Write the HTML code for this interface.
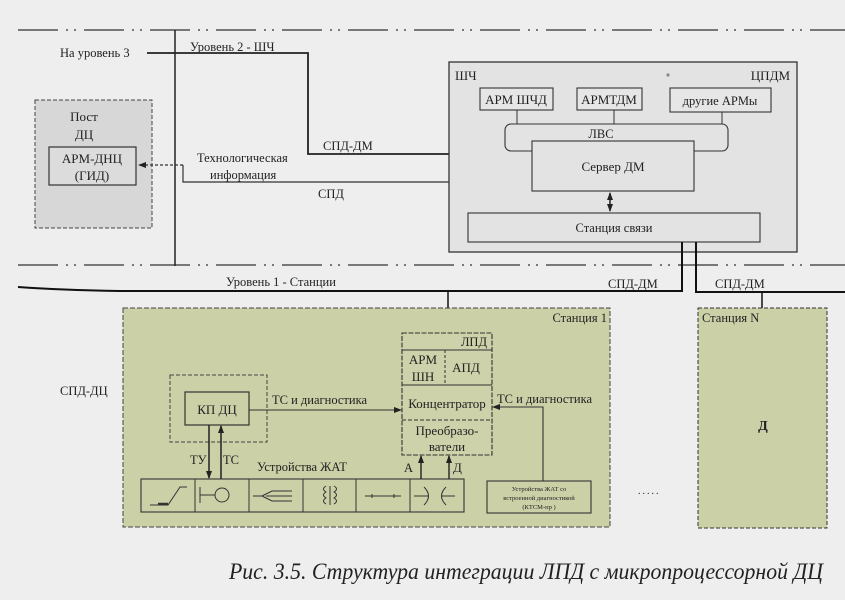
<!DOCTYPE html>
<html><head><meta charset="utf-8"><style>
html,body{margin:0;padding:0;background:#eeeeee;}
svg{display:block;}
text{font-family:"Liberation Serif","DejaVu Serif",serif;fill:#222;}
</style></head><body>
<svg width="845" height="600" viewBox="0 0 845 600" xmlns="http://www.w3.org/2000/svg">
<defs>
<marker id="ah" markerWidth="8" markerHeight="6" refX="7" refY="3" orient="auto" markerUnits="userSpaceOnUse">
<path d="M0,0 L8,3 L0,6 z" fill="#222"/></marker>
<marker id="ahs" markerWidth="8" markerHeight="6" refX="1" refY="3" orient="auto" markerUnits="userSpaceOnUse">
<path d="M8,0 L0,3 L8,6 z" fill="#222"/></marker>
</defs>
<rect x="0" y="0" width="845" height="600" fill="#eeeeee"/>

<!-- level dashed lines -->
<line x1="18" y1="30" x2="845" y2="30" stroke="#333" stroke-width="1.2" stroke-dasharray="40,8,2,6,2,8"/>
<line x1="18" y1="265" x2="845" y2="265" stroke="#333" stroke-width="1.2" stroke-dasharray="40,8,2,6,2,8"/>
<!-- vertical separator -->
<line x1="175" y1="30" x2="175" y2="266" stroke="#222" stroke-width="1.5"/>

<!-- level 2 texts -->
<text x="60" y="57" font-size="12.5">На уровень 3</text>
<text x="190" y="51" font-size="12.5">Уровень 2 - ШЧ</text>
<polyline points="147,53 308,53 308,154 532,154" fill="none" stroke="#222" stroke-width="1.8"/>
<text x="323" y="150" font-size="12.5">СПД-ДМ</text>

<!-- Пост ДЦ -->
<rect x="35" y="100" width="117" height="128" fill="#d7d7d7" stroke="#444" stroke-width="1" stroke-dasharray="4,2"/>
<text x="84" y="121" font-size="13" text-anchor="middle">Пост</text>
<text x="84" y="139" font-size="13" text-anchor="middle">ДЦ</text>
<rect x="49" y="147" width="87" height="38" fill="#dcdcdc" stroke="#333" stroke-width="1.2"/>
<text x="92" y="163" font-size="13" text-anchor="middle">АРМ-ДНЦ</text>
<text x="92" y="180" font-size="13" text-anchor="middle">(ГИД)</text>

<!-- Tech info connector -->
<line x1="183" y1="165" x2="139" y2="165" stroke="#333" stroke-width="1.2" stroke-dasharray="3,2" marker-end="url(#ah)"/>
<polyline points="183,165 183,182 531,182" fill="none" stroke="#333" stroke-width="1.2" marker-end="url(#ah)"/>
<text x="197" y="162" font-size="12.5">Технологическая</text>
<text x="210" y="179" font-size="12.5">информация</text>
<text x="318" y="198" font-size="12.5">СПД</text>

<!-- ШЧ box -->
<rect x="449" y="62" width="348" height="190" fill="#e3e3e3" stroke="#333" stroke-width="1.3"/>
<circle cx="668" cy="75" r="1.6" fill="#888"/>
<text x="455" y="80" font-size="13">ШЧ</text>
<text x="790" y="80" font-size="13" text-anchor="end">ЦПДМ</text>
<rect x="480" y="88" width="73" height="22" fill="#e6e6e6" stroke="#333" stroke-width="1.1"/>
<text x="516" y="104" font-size="13" text-anchor="middle">АРМ ШЧД</text>
<rect x="577" y="88" width="65" height="22" fill="#e6e6e6" stroke="#333" stroke-width="1.1"/>
<text x="609" y="104" font-size="13" text-anchor="middle">АРМТДМ</text>
<rect x="670" y="88" width="101" height="24" fill="#e6e6e6" stroke="#333" stroke-width="1.1"/>
<text x="720" y="105" font-size="12.5" text-anchor="middle">другие АРМы</text>
<line x1="517" y1="110" x2="517" y2="124" stroke="#333" stroke-width="1"/>
<line x1="614" y1="110" x2="614" y2="124" stroke="#333" stroke-width="1"/>
<line x1="722" y1="112" x2="722" y2="124" stroke="#333" stroke-width="1"/>
<rect x="505" y="124" width="223" height="27" rx="6" ry="6" fill="#e3e3e3" stroke="#333" stroke-width="1.1"/>
<text x="601" y="138" font-size="12.5" text-anchor="middle">ЛВС</text>
<rect x="532" y="141" width="162" height="50" fill="#e3e3e3" stroke="#333" stroke-width="1.1"/>
<text x="613" y="171" font-size="13" text-anchor="middle">Сервер ДМ</text>
<line x1="610" y1="193" x2="610" y2="211" stroke="#222" stroke-width="1.5" marker-start="url(#ahs)" marker-end="url(#ah)"/>
<rect x="468" y="213" width="292" height="29" fill="#e3e3e3" stroke="#333" stroke-width="1.1"/>
<text x="614" y="232" font-size="12.5" text-anchor="middle">Станция связи</text>

<!-- level 1 -->
<text x="226" y="286" font-size="12.5">Уровень 1 - Станции</text>
<path d="M18,287 Q60,290 120,291 L682,291 L682,242" fill="none" stroke="#111" stroke-width="2"/>
<polyline points="696,242 696,292 845,292" fill="none" stroke="#111" stroke-width="2"/>
<text x="608" y="288" font-size="12.5">СПД-ДМ</text>
<text x="715" y="288" font-size="12.5">СПД-ДМ</text>
<line x1="448" y1="291" x2="448" y2="333" stroke="#111" stroke-width="1.5"/>
<line x1="762" y1="292" x2="762" y2="308" stroke="#111" stroke-width="1.5"/>

<text x="60" y="395" font-size="12.5">СПД-ДЦ</text>

<!-- Станция 1 -->
<rect x="123" y="308" width="487" height="219" fill="#ccd0a7" stroke="#444" stroke-width="1" stroke-dasharray="5,2"/>
<text x="607" y="322" font-size="12.5" text-anchor="end">Станция 1</text>
<!-- Станция N -->
<rect x="698" y="308" width="129" height="220" fill="#ccd0a7" stroke="#333" stroke-width="1" stroke-dasharray="4,2"/>
<text x="702" y="322" font-size="12.5">Станция N</text>
<text x="763" y="430" font-size="14" font-weight="bold" text-anchor="middle">Д</text>
<text x="638" y="494" font-size="10" fill="#aaa" letter-spacing="2">.....</text>

<!-- ЛПД -->
<rect x="402" y="333" width="90" height="122" fill="#ced2aa" stroke="#333" stroke-width="1.1" stroke-dasharray="5,1.5"/>
<text x="487" y="346" font-size="12.5" text-anchor="end">ЛПД</text>
<line x1="402" y1="350" x2="492" y2="350" stroke="#333" stroke-width="1"/>
<line x1="445" y1="350" x2="445" y2="385" stroke="#333" stroke-width="1" stroke-dasharray="3,2"/>
<line x1="402" y1="385" x2="492" y2="385" stroke="#333" stroke-width="1"/>
<line x1="402" y1="420" x2="492" y2="420" stroke="#333" stroke-width="1" stroke-dasharray="4,2"/>
<text x="423" y="364" font-size="13" text-anchor="middle">АРМ</text>
<text x="423" y="381" font-size="13" text-anchor="middle">ШН</text>
<text x="466" y="372" font-size="13" text-anchor="middle">АПД</text>
<text x="447" y="408" font-size="13" text-anchor="middle">Концентратор</text>
<text x="447" y="435" font-size="13" text-anchor="middle">Преобразо-</text>
<text x="447" y="451" font-size="13" text-anchor="middle">ватели</text>

<!-- КП ДЦ -->
<rect x="170" y="375" width="97" height="67" fill="none" stroke="#444" stroke-width="1" stroke-dasharray="4,2"/>
<rect x="185" y="392" width="64" height="33" fill="#ccd0a7" stroke="#333" stroke-width="1.2"/>
<text x="217" y="414" font-size="13" text-anchor="middle">КП ДЦ</text>
<line x1="249" y1="410" x2="401" y2="410" stroke="#333" stroke-width="1.1" marker-end="url(#ah)"/>
<text x="272" y="404" font-size="12.5">ТС и диагностика</text>
<line x1="209" y1="425" x2="209" y2="478" stroke="#222" stroke-width="1.5" marker-end="url(#ah)"/>
<line x1="221" y1="479" x2="221" y2="426" stroke="#222" stroke-width="1.5" marker-end="url(#ah)"/>
<text x="190" y="464" font-size="12.5">ТУ</text>
<text x="223" y="464" font-size="12.5">ТС</text>
<text x="257" y="471" font-size="12.5">Устройства ЖАТ</text>

<!-- A / Д arrows -->
<line x1="421" y1="479" x2="421" y2="456" stroke="#222" stroke-width="1.4" marker-end="url(#ah)"/>
<line x1="449" y1="479" x2="449" y2="456" stroke="#222" stroke-width="1.4" marker-end="url(#ah)"/>
<text x="404" y="472" font-size="12.5">А</text>
<text x="453" y="472" font-size="13">Д</text>

<!-- KTSM -->
<rect x="487" y="481" width="104" height="32" fill="#ccd0a7" stroke="#333" stroke-width="1.1"/>
<text x="539" y="491" font-size="6.5" text-anchor="middle">Устройства ЖАТ со</text>
<text x="539" y="500" font-size="6.5" text-anchor="middle">встроенной диагностикой</text>
<text x="539" y="509" font-size="6.5" text-anchor="middle">(КТСМ-пр )</text>
<polyline points="543,481 543,407 493,407" fill="none" stroke="#333" stroke-width="1.1" marker-end="url(#ah)"/>
<text x="497" y="403" font-size="12.5">ТС и диагностика</text>

<!-- device row -->
<rect x="141" y="479" width="323" height="33" fill="none" stroke="#333" stroke-width="1.1"/>
<g stroke="#333" stroke-width="1" fill="none">
<line x1="195" y1="479" x2="195" y2="512"/>
<line x1="249" y1="479" x2="249" y2="512"/>
<line x1="303" y1="479" x2="303" y2="512"/>
<line x1="356" y1="479" x2="356" y2="512"/>
<line x1="410" y1="479" x2="410" y2="512"/>
<!-- 1 -->
<polyline points="150,505 168,505 180,487 187,487"/>
<line x1="158" y1="504" x2="168" y2="504" stroke-width="2.5"/>
<!-- 2 -->
<line x1="200" y1="487" x2="200" y2="503"/>
<line x1="200" y1="495" x2="215" y2="495"/>
<circle cx="222" cy="495" r="7"/>
<!-- 3 -->
<line x1="253" y1="496" x2="262" y2="496"/>
<path d="M262,496 L272,491 L292,491 M262,496 L272,501 L292,501 M266,496 L292,496"/>
<!-- 4 -->
<path d="M326,486 q-5,3 0,6 q-5,3 0,6 q-5,3 0,6"/>
<line x1="330" y1="486" x2="330" y2="505"/>
<path d="M334,486 q5,3 0,6 q5,3 0,6 q5,3 0,6"/>
<!-- 5 -->
<line x1="365" y1="496" x2="401" y2="496"/>
<line x1="372" y1="494" x2="372" y2="498"/>
<line x1="394" y1="494" x2="394" y2="498"/>
<!-- 6 -->
<line x1="414" y1="496" x2="428" y2="496"/>
<path d="M424,487 q9,9 0,18"/>
<path d="M446,487 q-9,9 0,18"/>
<line x1="442" y1="496" x2="455" y2="496"/>
</g>

<!-- caption -->
<text x="229" y="579" font-size="23" font-style="italic" textLength="594" lengthAdjust="spacingAndGlyphs">Рис. 3.5. Структура интеграции ЛПД с микропроцессорной ДЦ</text>
</svg>
</body></html>
